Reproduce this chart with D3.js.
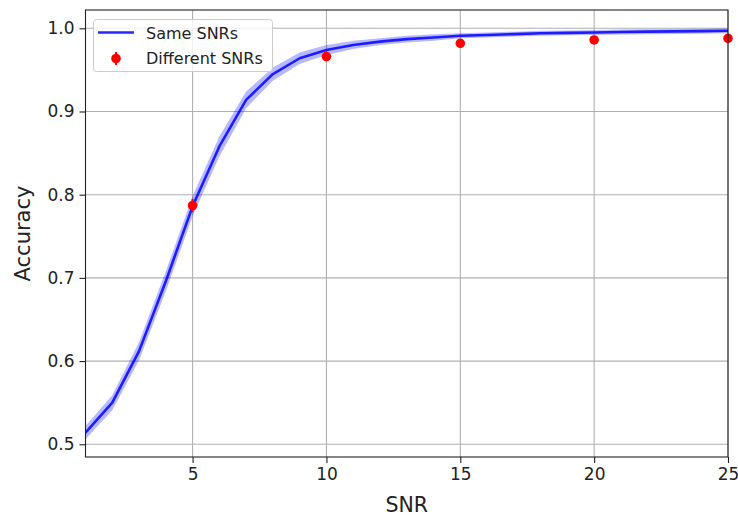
<!DOCTYPE html>
<html>
<head>
<meta charset="utf-8">
<script src="https://cdn.jsdelivr.net/npm/d3@7"></script>
<style>
  html, body { margin: 0; padding: 0; background: #fff; }
  svg { display: block; font-family: "DejaVu Sans", sans-serif; }
</style>
</head>
<body>
<svg id="chart" width="738" height="517"></svg>
<script>
// Accuracy vs SNR when training and testing share the same SNR (mean with spread)
const snrSame = [1,2,3,4,5,6,7,8,9,10,11,12,13,14,15,16,17,18,19,20,21,22,23,24,25];
const accSame = [0.514,0.550,0.612,0.696,0.786,0.858,0.914,0.945,0.964,0.974,0.980,0.984,0.987,0.989,0.991,0.992,0.993,0.994,0.9945,0.995,0.9955,0.996,0.9963,0.9966,0.997];
const accSameSpread = [0.008,0.009,0.011,0.012,0.012,0.012,0.010,0.008,0.007,0.006,0.005,0.004,0.004,0.004,0.003,0.003,0.003,0.003,0.003,0.003,0.003,0.003,0.003,0.003,0.003];

// Accuracy when tested at different SNRs (mean ± error)
const snrDiff = [5,10,15,20,25];
const accDiff = [0.787,0.966,0.982,0.986,0.988];
const accDiffErr = [0.008,0.003,0.002,0.002,0.002];

const xTicks = [5,10,15,20,25];
const yTicks = [0.5,0.6,0.7,0.8,0.9,1.0];

const svg = d3.select("#chart");
const m = { left: 85.5, right: 728, top: 10, bottom: 457 };

const x = d3.scaleLinear().domain([1, 25]).range([m.left, m.right]);
const y = d3.scaleLinear().domain([0.4847, 1.022]).range([m.bottom, m.top]);

// clip to axes area
svg.append("defs").append("clipPath").attr("id", "clip")
  .append("rect").attr("x", m.left).attr("y", m.top)
  .attr("width", m.right - m.left).attr("height", m.bottom - m.top);

// grid
const grid = svg.append("g");
grid.selectAll(".gx").data(xTicks).join("line")
  .attr("x1", d => x(d)).attr("x2", d => x(d))
  .attr("y1", m.top).attr("y2", m.bottom)
  .attr("stroke", "#b0b0b0").attr("stroke-width", 1.1);
grid.selectAll(".gy").data(yTicks).join("line")
  .attr("x1", m.left).attr("x2", m.right)
  .attr("y1", d => y(d)).attr("y2", d => y(d))
  .attr("stroke", "#b0b0b0").attr("stroke-width", 1.1);

const plot = svg.append("g").attr("clip-path", "url(#clip)");

// spread band
const band = d3.area()
  .x((d, i) => x(snrSame[i]))
  .y0((d, i) => y(accSame[i] - accSameSpread[i]))
  .y1((d, i) => y(accSame[i] + accSameSpread[i]));
plot.append("path").datum(accSame).attr("d", band)
  .attr("fill", "#0000ff").attr("fill-opacity", 0.28);

// mean line
const line = d3.line().x((d, i) => x(snrSame[i])).y(d => y(d));
plot.append("path").datum(accSame).attr("d", line)
  .attr("fill", "none").attr("stroke", "#0000ff").attr("stroke-opacity", 0.85)
  .attr("stroke-width", 2.6).attr("stroke-linejoin", "round");

// error bars + points
const pts = svg.append("g");
pts.selectAll(".eb").data(accDiff).join("line")
  .attr("x1", (d, i) => x(snrDiff[i])).attr("x2", (d, i) => x(snrDiff[i]))
  .attr("y1", (d, i) => y(d - accDiffErr[i])).attr("y2", (d, i) => y(d + accDiffErr[i]))
  .attr("stroke", "#ff0000").attr("stroke-width", 2);
pts.selectAll(".pt").data(accDiff).join("circle")
  .attr("cx", (d, i) => x(snrDiff[i])).attr("cy", d => y(d))
  .attr("r", 4.8).attr("fill", "#ff0000");

// axes
const xAxis = d3.axisBottom(x).tickValues(xTicks).tickFormat(d3.format("d")).tickSize(6).tickPadding(5);
const yAxis = d3.axisLeft(y).tickValues(yTicks).tickFormat(d3.format(".1f")).tickSize(6).tickPadding(5);

const gx = svg.append("g").attr("transform", `translate(0,${m.bottom})`).call(xAxis);
const gy = svg.append("g").attr("transform", `translate(${m.left},0)`).call(yAxis);
[gx, gy].forEach(g => {
  g.select(".domain").remove();
  g.selectAll("line").attr("stroke", "#222").attr("stroke-width", 1.1);
  g.selectAll("text").attr("fill", "#222").style("font-size", "17px")
    .style("font-family", "'DejaVu Sans', sans-serif");
});

// frame
svg.append("rect").attr("x", m.left).attr("y", m.top)
  .attr("width", m.right - m.left).attr("height", m.bottom - m.top)
  .attr("fill", "none").attr("stroke", "#222").attr("stroke-width", 1.1);

// axis titles
svg.append("text").attr("x", (m.left + m.right) / 2).attr("y", 512)
  .attr("text-anchor", "middle").attr("fill", "#222").style("font-size", "20.5px").text("SNR");
svg.append("text").attr("transform", `translate(30,${(m.top + m.bottom) / 2}) rotate(-90)`)
  .attr("text-anchor", "middle").attr("fill", "#222").style("font-size", "21px").text("Accuracy");

// legend
const lg = svg.append("g");
lg.append("rect").attr("x", 93.5).attr("y", 19.5).attr("width", 179).attr("height", 52)
  .attr("rx", 3).attr("fill", "#fff").attr("fill-opacity", 0.8)
  .attr("stroke", "#ccc").attr("stroke-width", 1);
lg.append("line").attr("x1", 98).attr("x2", 134).attr("y1", 32.5).attr("y2", 32.5)
  .attr("stroke", "#0000ff").attr("stroke-opacity", 0.85).attr("stroke-width", 2.6);
lg.append("line").attr("x1", 116).attr("x2", 116).attr("y1", 52).attr("y2", 65)
  .attr("stroke", "#ff0000").attr("stroke-width", 2);
lg.append("circle").attr("cx", 116).attr("cy", 58.5).attr("r", 4.8).attr("fill", "#ff0000");
lg.append("text").attr("x", 146).attr("y", 38.5).attr("fill", "#222").style("font-size", "16px").text("Same SNRs");
lg.append("text").attr("x", 146).attr("y", 64).attr("fill", "#222").style("font-size", "16px").text("Different SNRs");
</script>
</body>
</html>
